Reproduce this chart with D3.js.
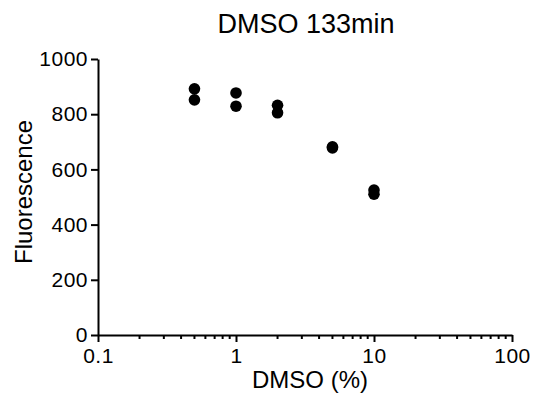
<!DOCTYPE html>
<html>
<head>
<meta charset="utf-8">
<script src="https://cdn.jsdelivr.net/npm/d3@7"></script>
<style>
  body { margin: 0; background: #fff; }
  svg { font-family: "Liberation Sans", Arial, sans-serif; }
</style>
</head>
<body>
<div id="chart"></div>
<script>
// DMSO concentration (%) and fluorescence readings (two replicates each)
const dmso = [0.5, 0.5, 1, 1, 2, 2, 5, 5, 10, 10];
const fluorescence = [892, 852, 877, 829, 832, 805, 682, 678, 525, 510];
const xTicks = [0.1, 1, 10, 100];
const yTicks = [0, 200, 400, 600, 800, 1000];

const width = 533, height = 394;
const margin = { top: 59, right: 21, bottom: 59, left: 98 };
const innerW = width - margin.left - margin.right;
const innerH = height - margin.top - margin.bottom;

const svg = d3.select('#chart').append('svg')
  .attr('width', width)
  .attr('height', height);

const g = svg.append('g').attr('transform', `translate(${margin.left},${margin.top})`);

const x = d3.scaleLog().domain([0.1, 100]).range([0, innerW]);
const y = d3.scaleLinear().domain([0, 1000]).range([innerH, 0]);

// minor ticks on log axis
const minor = [];
for (let dec = 0.1; dec < 100; dec *= 10) {
  for (let k = 2; k <= 9; k++) minor.push(dec * k);
}

g.append('g')
  .attr('transform', `translate(0,${innerH})`)
  .selectAll('line')
  .data(minor)
  .join('line')
  .attr('x1', d => x(d)).attr('x2', d => x(d))
  .attr('y1', 0).attr('y2', 4)
  .attr('stroke', '#000').attr('stroke-width', 2);

// X axis
g.append('g')
  .attr('transform', `translate(0,${innerH})`)
  .call(d3.axisBottom(x).tickValues(xTicks).tickFormat(d => String(d)).tickSize(7).tickPadding(6).tickSizeOuter(0))
  .call(a => a.select('.domain').attr('stroke-width', 2))
  .call(a => a.selectAll('.tick line').attr('stroke-width', 2))
  .call(a => a.selectAll('.tick text').attr('fill', '#000').style('font-size', '21px').style('letter-spacing', '0.5px'));

// Y axis
g.append('g')
  .call(d3.axisLeft(y).tickValues(yTicks).tickFormat(d3.format('d')).tickSize(7).tickPadding(3).tickSizeOuter(0))
  .call(a => a.select('.domain').attr('stroke-width', 2))
  .call(a => a.selectAll('.tick line').attr('stroke-width', 2))
  .call(a => a.selectAll('.tick text').attr('fill', '#000').style('font-size', '21px').style('letter-spacing', '0.5px'));

// Points
g.selectAll('circle')
  .data(dmso.map((d, i) => ({ x: d, y: fluorescence[i] })))
  .join('circle')
  .attr('cx', d => x(d.x))
  .attr('cy', d => y(d.y))
  .attr('r', 5.8)
  .attr('fill', '#000');

// Title and labels
svg.append('text')
  .attr('x', 306).attr('y', 33)
  .attr('text-anchor', 'middle')
  .style('font-size', '27px')
  .text('DMSO 133min');

svg.append('text')
  .attr('x', 310).attr('y', 388)
  .attr('text-anchor', 'middle')
  .style('font-size', '24px')
  .text('DMSO (%)');

svg.append('text')
  .attr('transform', `translate(32,192) rotate(-90)`)
  .attr('text-anchor', 'middle')
  .style('font-size', '24px')
  .text('Fluorescence');
</script>
</body>
</html>
